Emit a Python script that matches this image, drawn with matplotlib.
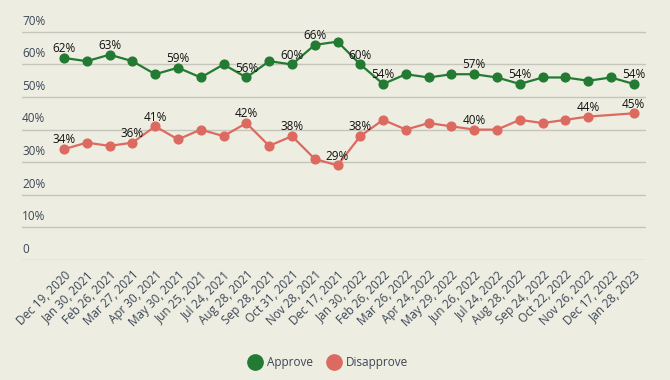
import matplotlib.pyplot as plt
import numpy as np

# Data
dates = ['Dec 19, 2020', 'Jan 30, 2021', 'Feb 26, 2021', 'Mar 27, 2021', 'Apr 30, 2021',
         'May 30, 2021', 'Jun 25, 2021', 'Jul 24, 2021', 'Aug 28, 2021', 'Sep 28, 2021',
         'Oct 31, 2021', 'Nov 28, 2021', 'Dec 17, 2021', 'Jan 30, 2022', 'Feb 26, 2022',
         'Mar 26, 2022', 'Apr 24, 2022', 'May 29, 2022', 'Jun 26, 2022', 'Jul 24, 2022',
         'Aug 28, 2022', 'Sep 24, 2022', 'Oct 22, 2022', 'Nov 26, 2022', 'Dec 17, 2022',
         'Jan 28, 2023']
approve = [62, 61, 63, 61, 57, 59, 56, 60, 56, 61, 60, 66, 67, 60, 54,
           57, 56, 57, 57, 56, 54, 56, 56, 55, 56, 54]
disapprove = [34, 36, 35, 36, 41, 37, 40, 38, 42, 35, 38, 31, 29, 38, 43,
              40, 42, 41, 40, 40, 43, 42, 43, 44, None, 45]
# which points carry a value label
approve_labeled = [0, 2, 5, 8, 10, 11, 13, 14, 18, 20, 25]
disapprove_labeled = [0, 3, 4, 8, 10, 12, 13, 18, 23, 25]
yticks = [0, 10, 20, 30, 40, 50, 60, 70]

bg = '#eeede1'
green = '#237a32'
red = '#dc6a60'
text_col = '#3b4656'

plt.rcParams['font.family'] = ['Open Sans', 'DejaVu Sans']

fig = plt.figure(figsize=(6.7, 3.8), dpi=100, facecolor=bg)
ax = fig.add_axes([0.033, 0.316, 0.931, 0.643])
ax.set_facecolor(bg)

x = np.arange(len(dates))
dis = np.array([np.nan if v is None else v for v in disapprove], dtype=float)
dmask = ~np.isnan(dis)

ax.plot(x, approve, color=green, lw=1.6, marker='o', ms=6.3, zorder=3)
ax.plot(x[dmask], dis[dmask], color=red, lw=1.6, marker='o', ms=6.3, zorder=3)

for i in approve_labeled:
    ax.annotate(f'{approve[i]}%', (x[i], approve[i]), xytext=(0, 2),
                textcoords='offset points', ha='center', va='bottom',
                fontsize=8.5, color='#111111', zorder=4)
for i in disapprove_labeled:
    ax.annotate(f'{disapprove[i]}%', (x[i], disapprove[i]), xytext=(0, 2),
                textcoords='offset points', ha='center', va='bottom',
                fontsize=8.5, color='#111111', zorder=4)

ax.set_xlim(-1.84, len(dates) - 1 + 0.53)
ax.set_ylim(0, 75)

# gridlines and y labels sitting above them
for t in yticks:
    ax.axhline(t, color='#c6c5bb', lw=1, zorder=1)
    ax.annotate('0' if t == 0 else f'{t}%', (0, t), xycoords=('axes fraction', 'data'),
                xytext=(0, 3), textcoords='offset points', ha='left', va='bottom',
                fontsize=8.5, color=text_col)
ax.set_yticks([])

ax.set_xticks(x)
ax.set_xticklabels(dates, rotation=45, ha='right', va='top', rotation_mode='anchor',
                   fontsize=8.5, color=text_col)
ax.tick_params(axis='x', length=0, pad=6)

for s in ax.spines.values():
    s.set_visible(False)

h1, = ax.plot([], [], ls='none', marker='o', ms=11, color=green)
h2, = ax.plot([], [], ls='none', marker='o', ms=11, color=red)
leg = fig.legend([h1, h2], ['Approve', 'Disapprove'], loc='center', bbox_to_anchor=(0.49, 0.045),
                 ncol=2, frameon=False, fontsize=8.5, handletextpad=0.4, columnspacing=1.2,
                 handlelength=1.2)
for t in leg.get_texts():
    t.set_color(text_col)

fig.savefig('out.png', dpi=100, facecolor=bg)
